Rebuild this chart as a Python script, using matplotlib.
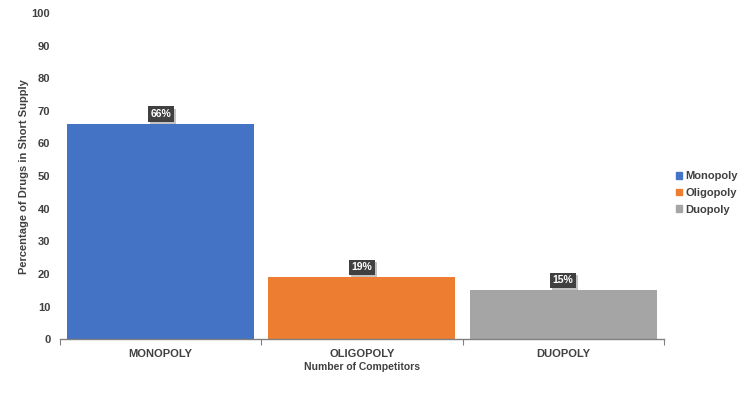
import numpy as np
import matplotlib.pyplot as plt
import matplotlib.patheffects as pe
from matplotlib import font_manager as fm

categories = ['MONOPOLY', 'OLIGOPOLY', 'DUOPOLY']
legend_names = ['Monopoly', 'Oligopoly', 'Duopoly']
values = [66, 19, 15]
colors = ['#4472C4', '#ED7D31', '#A5A5A5']

# pick the regular-width Liberation Sans files (avoid the Narrow variant)
reg = [f for f in fm.findSystemFonts() if f.endswith('LiberationSans-Regular.ttf')]
bold = [f for f in fm.findSystemFonts() if f.endswith('LiberationSans-Bold.ttf')]
if reg and bold:
    fpb = fm.FontProperties(fname=bold[0])
else:
    fpb = fm.FontProperties(family='DejaVu Sans', weight='bold')

def bp(size):
    p = fpb.copy()
    p.set_size(size)
    return p

text_color = '#404040'

fig = plt.figure(figsize=(7.5, 3.93), dpi=100)
ax = fig.add_axes([0.08, 0.137, 0.805, 0.83])

x = np.arange(len(categories))
ax.bar(x, values, width=0.93, color=colors)

for xi, v in zip(x, values):
    t = ax.text(xi, v + 3.0, '%d%%' % v, ha='center', va='center', fontproperties=bp(7.5),
                color='white', bbox=dict(boxstyle='square,pad=0.25', fc='#404040', ec='none'))
    t.get_bbox_patch().set_path_effects([pe.SimplePatchShadow(offset=(1.5, -1.5), alpha=0.25),
                                         pe.Normal()])

ax.set_xlim(-0.5, len(categories) - 0.5)
ax.set_ylim(0, 100)
ax.set_yticks(np.arange(0, 101, 10))
ax.set_xticks(np.arange(-0.5, len(categories)), minor=False)
ax.set_xticklabels([])
ax.set_xticks(x, minor=True)
ax.set_xticklabels(categories, minor=True)
ax.tick_params(axis='x', which='major', length=4, color='#808080', direction='out')
ax.tick_params(axis='x', which='minor', length=0, pad=7, labelcolor=text_color)
ax.tick_params(axis='y', length=0, pad=7, labelcolor=text_color)
for lab in ax.get_xticklabels(minor=True) + ax.get_yticklabels():
    lab.set_fontproperties(bp(8))

for s in ['top', 'right', 'left']:
    ax.spines[s].set_visible(False)
ax.spines['bottom'].set_color('#808080')
ax.spines['bottom'].set_linewidth(1.0)

ax.set_xlabel('Number of Competitors', fontproperties=bp(7.5), color=text_color, labelpad=2)
ax.set_ylabel('Percentage of Drugs in Short Supply', fontproperties=bp(8), color=text_color, labelpad=2)

handles = [plt.Rectangle((0, 0), 1, 1, color=c) for c in colors]
leg = fig.legend(handles, legend_names, loc='center left', bbox_to_anchor=(0.901, 0.509),
                 frameon=False, prop=bp(8), handlelength=0.55, handleheight=0.55,
                 handletextpad=0.35, labelspacing=0.6, borderaxespad=0, borderpad=0)
for t in leg.get_texts():
    t.set_color(text_color)

fig.savefig('out.png', dpi=100)
